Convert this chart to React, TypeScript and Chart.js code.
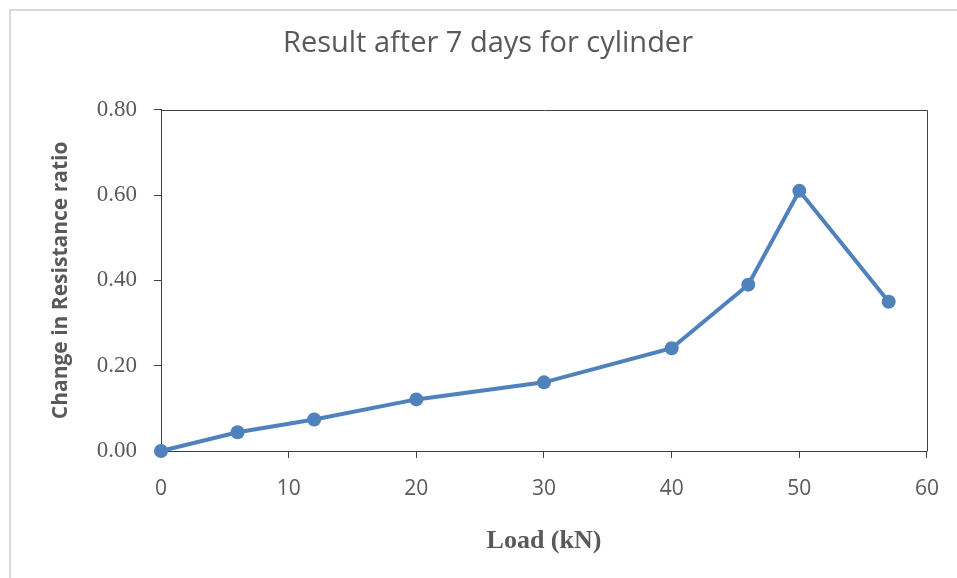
import React, { useEffect, useRef } from "react";
import { Chart, registerables } from "chart.js";

Chart.register(...registerables);

const loadKN = [0, 6, 12, 20, 30, 40, 46, 50, 57];
const resistanceRatio = [0, 0.044, 0.074, 0.121, 0.161, 0.241, 0.39, 0.61, 0.35];
const xTickValues = [0, 10, 20, 30, 40, 50, 60];
const yTickValues = [0, 0.2, 0.4, 0.6, 0.8];
const chartTitle = "Result after 7 days for cylinder";
const xAxisTitle = "Load (kN)";
const yAxisTitle = "Change in Resistance ratio";

const TEXT = "#595959";
const AXIS = "#404040";
const SERIES = "#4F81BD";

const framePlugin = {
  id: "frame",
  beforeDraw(chart: any) {
    const ctx = chart.ctx;
    ctx.save();
    ctx.fillStyle = "#ffffff";
    ctx.fillRect(0, 0, chart.width, chart.height);
    ctx.strokeStyle = "#d9d9d9";
    ctx.lineWidth = 2;
    ctx.beginPath();
    ctx.moveTo(10, chart.height);
    ctx.lineTo(10, 10);
    ctx.lineTo(chart.width, 10);
    ctx.stroke();
    ctx.restore();
  },
  beforeDatasetsDraw(chart: any) {
    const { ctx, chartArea } = chart;
    ctx.save();
    ctx.strokeStyle = AXIS;
    ctx.lineWidth = 1;
    const l = Math.round(chartArea.left) + 0.5;
    const r = Math.round(chartArea.right) + 0.5;
    const t = Math.round(chartArea.top) + 0.5;
    const b = Math.round(chartArea.bottom) + 0.5;
    ctx.beginPath();
    ctx.moveTo(l, t);
    ctx.lineTo(r, t);
    ctx.lineTo(r, b);
    ctx.stroke();
    ctx.restore();
  },
};

export default function App() {
  const ref = useRef<HTMLCanvasElement | null>(null);

  useEffect(() => {
    if (!ref.current) return;
    const chart = new Chart(ref.current, {
      type: "line",
      data: {
        datasets: [
          {
            data: loadKN.map((x, i) => ({ x, y: resistanceRatio[i] })),
            borderColor: SERIES,
            backgroundColor: SERIES,
            borderWidth: 4,
            pointRadius: 7,
            pointBackgroundColor: SERIES,
            pointBorderColor: SERIES,
            pointBorderWidth: 0,
            tension: 0,
            clip: false as any,
          },
        ],
      },
      options: {
        responsive: false,
        animation: false,
        devicePixelRatio: 1,
        layout: { padding: { left: 48, right: 29, top: 0, bottom: 0 } },
        plugins: {
          legend: { display: false },
          tooltip: { enabled: false },
          title: {
            display: true,
            text: chartTitle,
            color: TEXT,
            font: { family: "'Open Sans'", size: 29, weight: "normal" },
            padding: { top: 26, bottom: 49 },
          },
        },
        scales: {
          x: {
            type: "linear",
            min: 0,
            max: 60,
            afterBuildTicks: (s: any) => {
              s.ticks = xTickValues.map((v) => ({ value: v }));
            },
            afterFit: (s: any) => {
              s.height = 127;
            },
            ticks: {
              color: TEXT,
              font: { family: "'Open Sans'", size: 21 },
              padding: 18,
              maxRotation: 0,
            },
            grid: {
              display: true,
              drawOnChartArea: false,
              drawTicks: true,
              tickLength: 7,
              color: AXIS,
            },
            border: { display: true, color: AXIS, width: 1 },
            title: {
              display: true,
              text: xAxisTitle,
              color: TEXT,
              font: { family: "'Liberation Serif'", size: 26, weight: "bold" },
              padding: { top: 0, bottom: 21 },
            },
          },
          y: {
            type: "linear",
            min: 0,
            max: 0.8,
            afterBuildTicks: (s: any) => {
              s.ticks = yTickValues.map((v) => ({ value: v }));
            },
            afterFit: (s: any) => {
              s.width = 113;
            },
            ticks: {
              color: TEXT,
              font: { family: "'Liberation Serif'", size: 23 },
              padding: 17,
              callback: (v: any) => Number(v).toFixed(2),
            },
            grid: {
              display: true,
              drawOnChartArea: false,
              drawTicks: true,
              tickLength: 7,
              color: AXIS,
            },
            border: { display: true, color: AXIS, width: 1 },
            title: {
              display: true,
              text: yAxisTitle,
              color: TEXT,
              font: { family: "'Open Sans'", size: 21, weight: "bold" },
              padding: { top: 0, bottom: 0 },
            },
          },
        },
      },
      plugins: [framePlugin],
    });
    return () => chart.destroy();
  }, []);

  return (
    <div style={{ position: "fixed", left: 0, top: 0, width: 957, height: 578 }}>
      <canvas ref={ref} width={957} height={578} style={{ width: 957, height: 578 }} />
    </div>
  );
}
